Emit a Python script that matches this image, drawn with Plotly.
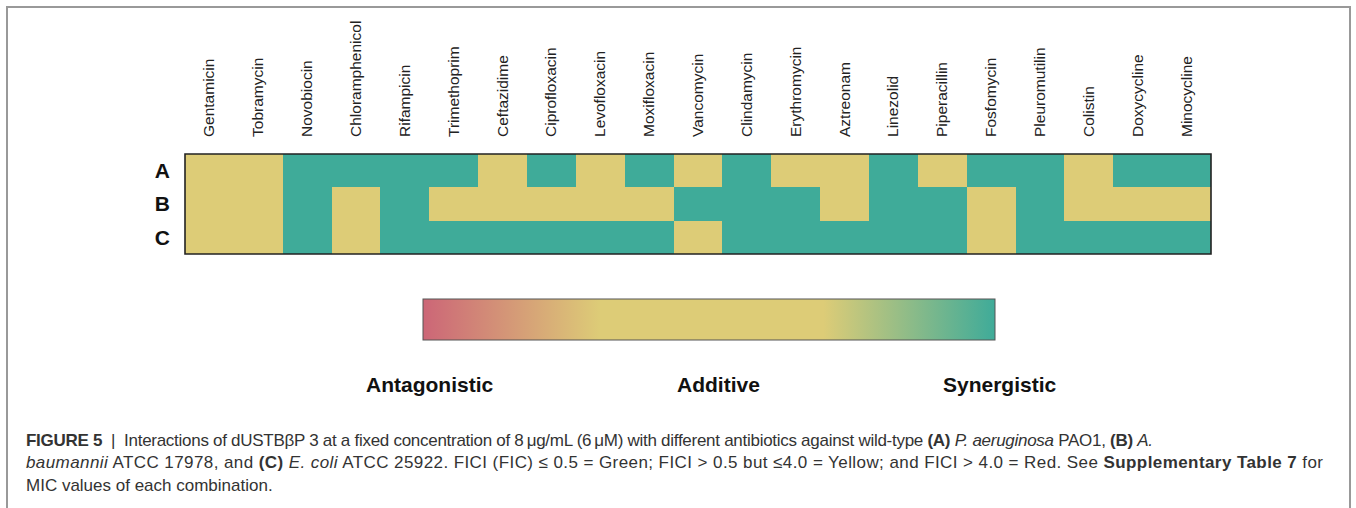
import plotly.graph_objects as go

W, H = 1356, 508

antibiotics = ["Gentamicin", "Tobramycin", "Novobiocin", "Chloramphenicol", "Rifampicin",
               "Trimethoprim", "Ceftazidime", "Ciprofloxacin", "Levofloxacin", "Moxifloxacin",
               "Vancomycin", "Clindamycin", "Erythromycin", "Aztreonam", "Linezolid",
               "Piperacillin", "Fosfomycin", "Pleuromutilin", "Colistin", "Doxycycline",
               "Minocycline"]
strains = ["A", "B", "C"]

# Y = additive (yellow), G = synergistic (green)
row_A = ["Y", "Y", "G", "G", "G", "G", "Y", "G", "Y", "G", "Y", "G", "Y", "Y", "G", "Y", "G", "G", "Y", "G", "G"]
row_B = ["Y", "Y", "G", "Y", "G", "Y", "Y", "Y", "Y", "Y", "G", "G", "G", "Y", "G", "G", "Y", "G", "Y", "Y", "Y"]
row_C = ["Y", "Y", "G", "Y", "G", "G", "G", "G", "G", "G", "Y", "G", "G", "G", "G", "G", "Y", "G", "G", "G", "G"]

code_value = {"R": -1, "Y": 0, "G": 1}
legend_labels = ["Antagonistic", "Additive", "Synergistic"]

z = [[code_value[c] for c in row] for row in (row_A, row_B, row_C)]

ROSE, SAND, TEAL = "#CC6677", "#DDCC77", "#3FAB99"
colorscale = [[0.0, ROSE], [0.31, SAND], [0.70, SAND], [1.0, TEAL]]

def px_x(p):
    return p / W

def px_y(p):
    return 1 - p / H

hm_left, hm_right, hm_top, hm_bot = 185, 1211, 154, 254
cb_left, cb_right, cb_top, cb_bot = 423, 995, 300, 341

fig = go.Figure()
fig.add_trace(go.Heatmap(
    z=z, x=antibiotics, y=strains,
    colorscale=colorscale, zmin=-1, zmax=1,
    hoverinfo="skip",
    colorbar=dict(
        orientation="h",
        lenmode="pixels", len=cb_right - cb_left,
        thickness=cb_bot - cb_top,
        x=px_x((cb_left + cb_right) / 2), xanchor="center",
        y=px_y(cb_bot), yanchor="bottom",
        xpad=0, ypad=0,
        outlinewidth=1, outlinecolor="#555555",
        showticklabels=False, ticks="",
    ),
))

fig.update_xaxes(
    domain=[px_x(hm_left), px_x(hm_right)],
    side="top", tickangle=-90, showgrid=False, zeroline=False,
    tickfont=dict(family="Arial, Liberation Sans, sans-serif", size=15.5, color="#222222"),
    ticks="", ticklabelstandoff=16,
)
fig.update_yaxes(
    domain=[px_y(hm_bot), px_y(hm_top)],
    autorange="reversed", showgrid=False, zeroline=False,
    tickfont=dict(family="Arial, Liberation Sans, sans-serif", size=21, color="#111111"),
    ticks="", ticklabelstandoff=14,
)
fig.update_yaxes(tickvals=strains, ticktext=[f"<b>{s}</b>" for s in strains])

shapes = [
    dict(type="rect", xref="paper", yref="paper",
         x0=px_x(hm_left), x1=px_x(hm_right), y0=px_y(hm_bot), y1=px_y(hm_top),
         line=dict(color="#222222", width=1.6)),
    dict(type="rect", xref="paper", yref="paper",
         x0=px_x(7), x1=px_x(1350), y0=px_y(530), y1=px_y(7),
         line=dict(color="#999999", width=2)),
]

annotations = []
for lab, cx in zip(legend_labels, [430, 718, 1000]):
    annotations.append(dict(text=f"<b>{lab}</b>", x=px_x(cx), y=px_y(384), xref="paper", yref="paper",
                            xanchor="center", yanchor="middle", showarrow=False,
                            font=dict(family="Arial, Liberation Sans, sans-serif", size=21, color="#111111")))

sp = " "
caption_lines = [
    "<b>FIGURE 5</b>  |  Interactions of dUSTBβP 3 at a fixed concentration of 8\u2009μg/mL (6\u2009μM) with different antibiotics against wild-type <b>(A)</b> <i>P. aeruginosa</i> PAO1, <b>(B)</b> <i>A.</i>",
    f"<i>baumannii</i> ATCC 17978, and <b>(C)</b> <i>E. coli</i> ATCC 25922. FICI (FIC){sp}≤{sp}0.5{sp}={sp}Green; FICI{sp}>{sp}0.5 but ≤4.0{sp}={sp}Yellow; and FICI{sp}>{sp}4.0{sp}={sp}Red. See <b>Supplementary Table 7</b> for",
    "MIC values of each combination.",
]
caption_spacing = ["-0.28px", "0.42px", "0px"]
for line, cy, ls in zip(caption_lines, [440, 462, 485], caption_spacing):
    annotations.append(dict(text=f'<span style="letter-spacing:{ls}">{line}</span>',
                            x=px_x(24), y=px_y(cy), xref="paper", yref="paper",
                            xanchor="left", yanchor="middle", showarrow=False, align="left",
                            font=dict(family="Liberation Sans, Arial, sans-serif", size=17, color="#333333")))

fig.update_layout(
    width=W, height=H,
    margin=dict(l=0, r=0, t=0, b=0),
    paper_bgcolor="white", plot_bgcolor="white",
    shapes=shapes, annotations=annotations,
)

# remove the browser's default page margin so the figure sits at the window origin
fig.write_html("out.html", config={"displayModeBar": False},
               post_script="document.body.style.margin='0px';document.body.style.overflow='hidden';")
